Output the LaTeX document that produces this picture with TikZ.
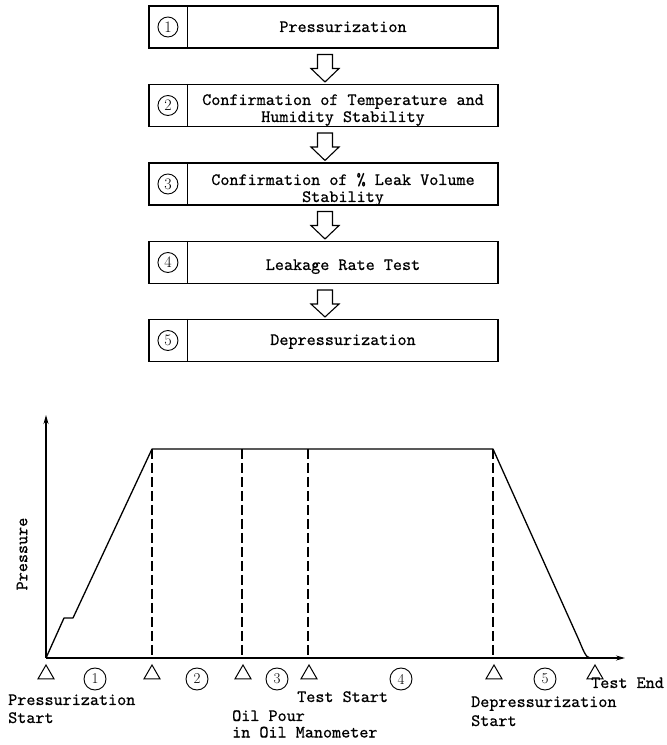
\documentclass[tikz,border=0pt]{standalone}
\usepackage{fontspec}
\newfontfamily\twfont{lmmono10-regular.otf}[FakeBold=0.6]
\usetikzlibrary{arrows.meta,shapes.geometric,calc}
\begin{document}
\begin{tikzpicture}[x=1pt,y=1pt,
  box/.style={draw, line width=1.1pt, minimum width=349pt, minimum height=42pt, inner sep=0pt},
  tt/.style={font=\fontsize{17.3}{17}\selectfont\twfont, inner sep=0pt},
  num/.style={circle, draw, line width=0.9pt, minimum size=20pt, inner sep=0pt, font=\fontsize{16}{16}\selectfont},
  anum/.style={circle, draw, line width=0.9pt, minimum size=22pt, inner sep=0pt, font=\fontsize{15}{15}\selectfont},
  hol/.style={draw, line width=1.1pt, fill=white, line join=miter},
  axis/.style={line width=1.2pt, -{Stealth[length=9pt,width=5pt]}},
  curve/.style={line width=1.3pt, line join=round},
  guide/.style={line width=1.2pt, dash pattern=on 10pt off 4pt},
  tri/.style={regular polygon, regular polygon sides=3, draw, line width=1pt, minimum size=18.5pt, inner sep=0pt},
  lbl/.style={tt, anchor=base west}]
\useasboundingbox (0,0) rectangle (667,745);

% ---- flow boxes ----
\foreach \i/\y in {1/718,2/639.5,3/561,4/482.5,5/404.5} {
  \node[box] (b\i) at (323.5,\y) {};
  \draw[line width=1.1pt] ([xshift=39pt]b\i.north west) -- ([xshift=39pt]b\i.south west);
  \node[num] (n\i) at ([xshift=19.5pt]b\i.west) {\i};
}
\node[tt, anchor=base] (l1) at (343,713) {Pressurization};
\node[tt, anchor=base] (l2a) at (343,640) {Confirmation of Temperature and};
\node[tt, anchor=base] (l2b) at (343,623) {Humidity Stability};
\node[tt, anchor=base] (l3a) at (343,560) {Confirmation of \% Leak Volume};
\node[tt, anchor=base] (l3b) at (343,543) {Stability};
\node[tt, anchor=base] (l4) at (343,475) {Leakage Rate Test};
\node[tt, anchor=base] (l5) at (343,400) {Depressurization};

% ---- hollow arrows ----
\foreach \a/\b in {b1/b2,b2/b3,b3/b4,b4/b5} {
  \draw[hol] ($(\a.south)+(-6,-6)$) -- ($(\a.south)+(9,-6)$) -- ($(\a.south)+(9,-20)$)
    -- ($(\a.south)+(15.5,-20)$) -- ($(\b.north)+(1.5,2)$) -- ($(\a.south)+(-12.5,-20)$)
    -- ($(\a.south)+(-6,-20)$) -- cycle;
}

% ---- chart ----
\coordinate (O) at (46,87);
\coordinate (Ytop) at (46,330);
\coordinate (Xend) at (625,87);
\draw[axis] (O) -- (Ytop);
\draw[axis] (O) -- (Xend);

\coordinate (K1) at (64,127);
\coordinate (K2) at (73,127);
\coordinate (P1) at (152,296);
\coordinate (Q1) at (242,296);
\coordinate (Q2) at (308,296);
\coordinate (P2) at (493,296);
\coordinate (D1) at (578,107);
\coordinate (E) at (590,87);
\draw[curve] (O) -- (K1) -- (K2) -- (P1) -- (P2) -- (D1) .. controls (582.5,97) and (585.5,87) .. (E);

\foreach \c in {P1,Q1,Q2,P2} {
  \draw[guide] (\c) -- (\c |- O);
}

\foreach \n/\x in {0/46,1/152,2/243,3/309,4/494,5/595} {
  \node[tri] (t\n) at (\x,70.75) {};
}
\foreach \n/\x in {1/95,2/197,3/277,4/401,5/545} {
  \node[anum] (c\n) at (\x,66) {\n};
}

\node[tt, rotate=90] (ylab) at (22,191) {Pressure};

\node[lbl] (s1) at (8,40) {Pressurization};
\node[lbl] (s1b) at (8,22) {Start};
\node[lbl] (ts) at (297,43) {Test Start};
\node[lbl] (op) at (232,24) {Oil Pour};
\node[lbl] (opb) at (232,7.5) {in Oil Manometer};
\node[lbl] (ds) at (471,38) {Depressurization};
\node[lbl] (dsb) at (471,19) {Start};
\node[lbl] (te) at (591,57) {Test End};
\end{tikzpicture}
\end{document}
